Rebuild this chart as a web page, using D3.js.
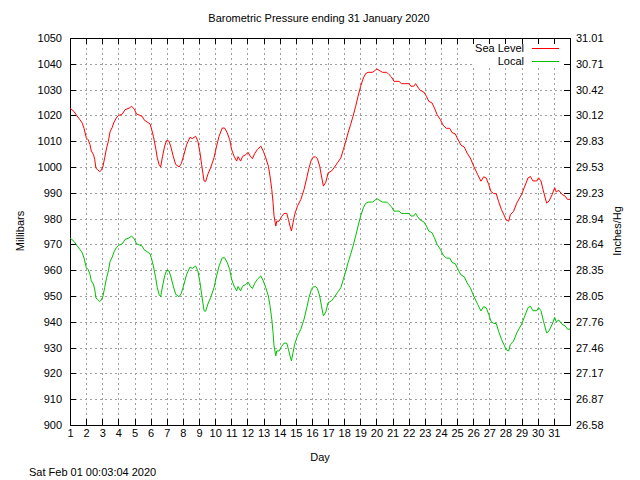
<!DOCTYPE html>
<html>
<head>
<meta charset="utf-8">
<script src="https://cdn.jsdelivr.net/npm/d3@7"></script>
<style>
  html, body { margin: 0; padding: 0; background: #fff; }
  svg { display: block; }
  text { font-family: "Liberation Sans", Arial, sans-serif; font-size: 11px; fill: #000; }
</style>
</head>
<body>
<svg id="chart" width="640" height="480"></svg>
<script>
// ---- Data ----
const chartTitle = "Barometric Pressure ending 31 January 2020";
const footerText = "Sat Feb 01 00:03:04 2020";
const seriesNames = ["Sea Level", "Local"];

const days = [
  1.00,1.25,1.41,1.62,1.76,1.87,2.01,2.12,2.24,2.32,
  2.45,2.53,2.61,2.69,2.84,2.94,3.05,3.15,3.27,3.38,
  3.48,3.62,3.73,3.87,4.02,4.24,4.41,4.66,4.82,4.97,
  5.13,5.34,5.48,5.59,5.79,5.96,6.04,6.17,6.31,6.41,
  6.52,6.62,6.74,6.87,6.99,7.14,7.24,7.40,7.55,7.76,
  7.90,8.07,8.23,8.44,8.58,8.79,8.93,9.06,9.16,9.31,
  9.41,9.55,9.72,9.93,10.09,10.24,10.44,10.59,10.75,10.90,
  11.02,11.17,11.33,11.42,11.58,11.70,11.90,12.04,12.17,12.31,
  12.45,12.62,12.83,12.99,13.14,13.30,13.40,13.51,13.59,13.65,
  13.76,13.82,13.96,14.11,14.27,14.44,14.54,14.64,14.73,14.83,
  14.93,15.10,15.31,15.51,15.68,15.82,15.97,16.09,16.24,16.34,
  16.48,16.59,16.71,16.86,17.00,17.21,17.37,17.58,17.79,17.95,
  18.10,18.24,18.40,18.55,18.71,18.86,19.02,19.19,19.33,19.48,
  19.75,19.85,20.02,20.16,20.37,20.64,20.78,20.93,21.09,21.40,
  21.55,21.75,22.02,22.14,22.31,22.43,22.56,22.72,22.93,23.10,
  23.24,23.45,23.59,23.76,23.96,24.13,24.33,24.54,24.69,24.89,
  25.04,25.24,25.45,25.62,25.82,26.03,26.28,26.48,26.65,26.81,
  26.96,27.10,27.27,27.43,27.58,27.75,27.90,28.05,28.20,28.30,
  28.50,28.70,29.00,29.20,29.40,29.55,29.70,29.95,30.05,30.20,
  30.35,30.55,30.70,30.90,31.05,31.15,31.30,31.50,31.70,31.85,
  32.00
];

const seaLevel = [
  1022.8,1021.5,1020.0,1018.3,1017.0,1015.0,1011.3,1010.6,1008.7,1006.2,
  1004.9,1003.0,999.5,999.1,998.2,998.7,1000.4,1003.6,1007.4,1010.0,
  1013.6,1015.4,1017.4,1019.0,1020.0,1020.5,1022.2,1022.8,1023.5,1022.6,
  1020.5,1020.0,1019.6,1018.3,1017.4,1016.7,1015.1,1011.9,1007.4,1003.6,
  1001.0,1000.0,1004.2,1008.1,1010.3,1010.0,1008.1,1004.2,1001.0,1000.0,
  1001.3,1004.9,1008.7,1011.5,1011.0,1011.9,1010.0,1005.5,1001.0,994.6,
  994.4,997.2,999.7,1003.6,1008.1,1011.9,1015.1,1015.1,1013.2,1010.6,
  1006.8,1004.2,1002.3,1004.0,1002.3,1004.1,1004.8,1005.7,1004.2,1003.2,
  1005.2,1006.8,1008.1,1006.1,1003.5,1000.3,996.5,991.3,986.1,981.0,
  977.1,979.0,979.0,980.7,982.0,982.0,979.7,977.1,975.2,978.4,
  981.6,984.8,987.4,991.3,995.8,999.7,1002.9,1003.9,1003.9,1003.2,
  1000.3,996.5,992.6,994.1,997.7,998.4,999.7,1001.6,1003.5,1006.8,
  1010.0,1013.2,1016.5,1019.7,1023.5,1027.4,1031.3,1034.5,1036.2,1036.7,
  1036.7,1037.1,1038.0,1037.5,1036.7,1036.7,1035.8,1034.9,1033.2,1033.2,
  1032.3,1032.3,1032.3,1031.3,1031.3,1032.3,1031.0,1029.7,1029.1,1027.4,
  1025.5,1024.8,1022.9,1020.3,1018.4,1016.2,1015.0,1015.0,1013.3,1012.8,
  1010.8,1008.5,1007.7,1005.4,1003.5,1000.3,997.0,994.5,996.2,995.7,
  993.2,990.5,989.7,989.6,986.5,983.5,981.5,979.4,979.0,981.5,
  982.8,986.0,989.4,992.6,995.8,996.3,994.6,994.6,995.8,994.6,
  990.7,986.0,986.8,989.4,992.0,990.3,991.0,989.4,988.7,987.4,
  987.5
];

const local = [
  972.5,971.2,969.7,968.0,966.7,964.7,961.0,960.3,958.4,955.9,
  954.6,952.7,949.2,948.8,947.9,948.4,950.1,953.3,957.1,959.7,
  963.3,965.1,967.1,968.7,969.7,970.2,971.9,972.5,973.2,972.3,
  970.2,969.7,969.3,968.0,967.1,966.4,964.8,961.6,957.1,953.3,
  950.7,949.7,953.9,957.8,960.0,959.7,957.8,953.9,950.7,949.7,
  951.0,954.6,958.4,961.2,960.7,961.6,959.7,955.2,950.7,944.3,
  944.1,946.9,949.4,953.3,957.8,961.6,964.8,964.8,962.9,960.3,
  956.5,953.9,952.0,953.7,952.0,953.8,954.5,955.4,953.9,952.9,
  954.9,956.5,957.8,955.8,953.2,950.0,946.2,941.0,935.8,930.7,
  926.8,928.7,928.7,930.4,931.7,931.7,929.4,926.8,924.9,928.1,
  931.3,934.5,937.1,941.0,945.5,949.4,952.6,953.6,953.6,952.9,
  950.0,946.2,942.3,943.8,947.4,948.1,949.4,951.3,953.2,956.5,
  959.7,962.9,966.2,969.4,973.2,977.1,981.0,984.2,985.9,986.4,
  986.4,986.8,987.7,987.2,986.4,986.4,985.5,984.6,982.9,982.9,
  982.0,982.0,982.0,981.0,981.0,982.0,980.7,979.4,978.8,977.1,
  975.2,974.5,972.6,970.0,968.1,965.9,964.7,964.7,963.0,962.5,
  960.5,958.2,957.4,955.1,953.2,950.0,946.7,944.2,945.9,945.4,
  942.9,940.2,939.4,939.3,936.2,933.2,931.2,929.1,928.7,931.2,
  932.5,935.7,939.1,942.3,945.5,946.0,944.3,944.3,945.5,944.3,
  940.4,935.7,936.5,939.1,941.7,940.0,940.7,939.1,938.4,937.1,
  937.2
];

const dayTicks = [1,2,3,4,5,6,7,8,9,10,11,12,13,14,15,16,17,18,19,20,21,22,23,24,25,26,27,28,29,30,31];
const mbTicks = [900,910,920,930,940,950,960,970,980,990,1000,1010,1020,1030,1040,1050];
const inHgLabels = ["26.58","26.87","27.17","27.46","27.76","28.05","28.35","28.64","28.94","29.23","29.53","29.83","30.12","30.42","30.71","31.01"];

// ---- Layout ----
const L = 70, R = 570, T = 38, B = 425;
const svg = d3.select("#chart");

const x = d3.scaleLinear().domain([1, 32]).range([L, R]);
const y = d3.scaleLinear().domain([900, 1050]).range([B, T]);

// grid
const grid = svg.append("g").attr("stroke", "#a0a0a0").attr("stroke-dasharray", "2,3").attr("shape-rendering", "crispEdges");
grid.selectAll("line.v").data(dayTicks.slice(1)).join("line")
  .attr("x1", d => Math.round(x(d)) + 0.5).attr("x2", d => Math.round(x(d)) + 0.5)
  .attr("y1", B).attr("y2", T);
grid.selectAll("line.h").data(mbTicks.slice(1, -1)).join("line")
  .attr("y1", d => Math.round(y(d)) + 0.5).attr("y2", d => Math.round(y(d)) + 0.5)
  .attr("x1", L).attr("x2", R);

// legend background (opaque key box)
svg.append("rect").attr("x", 473).attr("y", T + 1).attr("width", R - 473 - 1).attr("height", 28).attr("fill", "#fff");

// axes
function styleAxis(g) {
  g.select(".domain").remove();
  g.selectAll("line").attr("stroke", "#000").attr("shape-rendering", "crispEdges");
  g.selectAll("text").attr("font-family", "Liberation Sans, Arial, sans-serif").attr("font-size", 11).attr("fill", "#000");
}
svg.append("g").attr("transform", `translate(0,${B})`)
  .call(d3.axisBottom(x).tickValues(dayTicks).tickFormat(d3.format("d")).tickSizeInner(-6).tickSizeOuter(0).tickPadding(4))
  .call(styleAxis);
svg.append("g").attr("transform", `translate(0,${T})`)
  .call(d3.axisTop(x).tickValues(dayTicks).tickFormat("").tickSizeInner(-6).tickSizeOuter(0))
  .call(styleAxis);
svg.append("g").attr("transform", `translate(${L},0)`)
  .call(d3.axisLeft(y).tickValues(mbTicks).tickFormat(d3.format("d")).tickSizeInner(-6).tickSizeOuter(0).tickPadding(8))
  .call(styleAxis);
svg.append("g").attr("transform", `translate(${R},0)`)
  .call(d3.axisRight(y).tickValues(mbTicks).tickFormat((d, i) => inHgLabels[i]).tickSizeInner(-6).tickSizeOuter(0).tickPadding(6))
  .call(styleAxis);

// frame
svg.append("rect").attr("x", L + 0.5).attr("y", T + 0.5).attr("width", R - L).attr("height", B - T)
  .attr("fill", "none").attr("stroke", "#000").attr("shape-rendering", "crispEdges");

// lines
const pts = (vals) => days.map((d, i) => [d, vals[i]]);
const line = d3.line().x(d => x(d[0])).y(d => y(d[1]));
svg.append("path").attr("d", line(pts(seaLevel))).attr("fill", "none").attr("stroke", "#ff0000").attr("stroke-width", 1);
svg.append("path").attr("d", line(pts(local))).attr("fill", "none").attr("stroke", "#00c000").attr("stroke-width", 1);

// legend
const legColors = ["#ff0000", "#00c000"];
seriesNames.forEach((name, i) => {
  const ly = 48 + i * 13;
  svg.append("text").attr("x", 524).attr("y", ly + 4).attr("text-anchor", "end").text(name);
  svg.append("line").attr("x1", 532).attr("x2", 559).attr("y1", ly + 0.5).attr("y2", ly + 0.5)
    .attr("stroke", legColors[i]).attr("shape-rendering", "crispEdges");
});

// titles
svg.append("text").attr("x", 319).attr("y", 22).attr("text-anchor", "middle").text(chartTitle);
svg.append("text").attr("x", 320).attr("y", 461).attr("text-anchor", "middle").text("Day");
svg.append("text").attr("transform", "translate(24,231) rotate(-90)").attr("text-anchor", "middle").text("Millibars");
svg.append("text").attr("transform", "translate(621,231) rotate(-90)").attr("text-anchor", "middle").text("Inches/Hg");
svg.append("text").attr("x", 29).attr("y", 476).text(footerText);
</script>
</body>
</html>
